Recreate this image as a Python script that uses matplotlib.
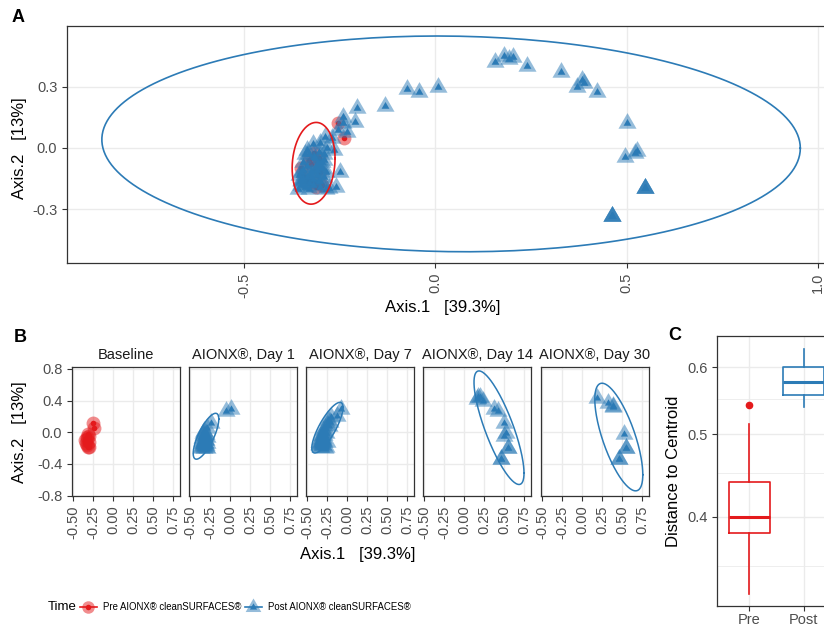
import numpy as np
import matplotlib
matplotlib.use("Agg")
import matplotlib.pyplot as plt
from matplotlib.lines import Line2D
from matplotlib.legend_handler import HandlerTuple
from matplotlib.ticker import FixedLocator, NullFormatter

plt.rcParams['font.family'] = ['Liberation Sans', 'DejaVu Sans']

# ---------------- data ----------------
pre_x = [-0.253, -0.238, -0.318, -0.305, -0.352, -0.313, -0.295, -0.320, -0.330, -0.300, -0.340, -0.325]
pre_y = [0.122, 0.049, -0.024, -0.050, -0.100, -0.190, -0.180, -0.165, -0.060, -0.120, -0.140, -0.080]

day1_x = [-0.044, 0.008, -0.240, -0.287, -0.335, -0.318, -0.345, -0.334, -0.352, -0.331, -0.300, -0.313,
          -0.290, -0.360, -0.325, -0.350, -0.340, -0.330, -0.320, -0.310, -0.305, -0.300, -0.295, -0.285,
          -0.345, -0.320, -0.310, -0.355, -0.290]
day1_y = [0.274, 0.300, 0.122, 0.054, -0.010, -0.044, -0.108, -0.140, -0.157, -0.171, -0.190, -0.093,
          -0.060, -0.200, -0.120, -0.180, -0.030, -0.200, -0.150, -0.130, -0.020, -0.160, -0.100, -0.200,
          -0.070, 0.020, -0.080, -0.130, -0.140]

day7_x = [-0.073, -0.131, -0.204, -0.209, -0.282, -0.300, -0.279, -0.330, -0.345, -0.310, -0.320, -0.295,
          -0.350, -0.340, -0.335, -0.325, -0.315, -0.305, -0.290, -0.270, -0.255, -0.240, -0.300, -0.350,
          -0.285, -0.265, -0.230, -0.260, -0.250]
day7_y = [0.289, 0.205, 0.196, 0.127, 0.000, 0.024, -0.196, -0.030, -0.150, -0.110, -0.180, -0.070,
          -0.120, -0.190, -0.090, -0.140, -0.050, -0.160, -0.030, 0.050, 0.090, 0.150, -0.100, -0.160,
          -0.120, -0.010, 0.080, -0.190, -0.120]

day14_x = [0.157, 0.178, 0.204, 0.240, 0.371, 0.423, 0.501, 0.496, 0.527, 0.548, 0.548, 0.462, 0.462]
day14_y = [0.420, 0.450, 0.445, 0.400, 0.300, 0.274, 0.122, -0.044, -0.015, -0.196, -0.196, -0.333, -0.333]

day30_x = [0.191, 0.329, 0.384, 0.387, 0.522, 0.548, 0.462, 0.548, 0.462]
day30_y = [0.435, 0.370, 0.333, 0.318, -0.024, -0.196, -0.333, -0.196, -0.333]

facet_titles = ["Baseline", "AIONX®, Day 1", "AIONX®, Day 7", "AIONX®, Day 14", "AIONX®, Day 30"]

# ellipse parameters: centre x, centre y, half-width x, half-height y, correlation
ellA_pre = (-0.318, -0.075, 0.056, 0.200, 0.12)
ellA_post = (0.041, 0.020, 0.912, 0.528, -0.04)
ellB = [None,
        (-0.300, -0.050, 0.160, 0.290, 0.75),
        (-0.245, 0.058, 0.195, 0.320, 0.80),
        (0.4375, 0.058, 0.3125, 0.7175, -0.80),
        (0.460, -0.060, 0.300, 0.680, -0.70)]

# distance-to-centroid boxplot stats
box_groups = ["Pre", "Post"]
box_q1 = [0.383, 0.556]
box_med = [0.400, 0.576]
box_q3 = [0.439, 0.601]
box_lo = [0.324, 0.538]
box_hi = [0.515, 0.630]
box_out = [[0.541], []]

legend_title = "Time"
legend_labels = ["Pre AIONX® cleanSURFACES®", "Post AIONX® cleanSURFACES®"]

RED = '#E41A1C'
BLUE = '#2C7BB6'
GRID = '#EBEBEB'
TICKC = '#4D4D4D'
SPINE = '#333333'
TRI = [(0, 0.577), (-0.5, -0.289), (0.5, -0.289), (0, 0.577)]

W, H = 824, 628
fig = plt.figure(figsize=(W / 100, H / 100), dpi=100)


def ax_px(l, t, r, b):
    return fig.add_axes([l / W, 1 - b / H, (r - l) / W, (b - t) / H])


def style(ax):
    ax.set_facecolor('white')
    ax.grid(True, color=GRID, lw=1.0, zorder=0)
    ax.set_axisbelow(True)
    for s in ax.spines.values():
        s.set_color(SPINE)
        s.set_linewidth(0.9)
    ax.tick_params(colors=SPINE, labelcolor=TICKC, labelsize=10.5, length=3.5, width=0.8)


def ell_xy(p):
    cx, cy, a, b, r = p
    t = np.linspace(0, 2 * np.pi, 200)
    return cx + a * np.cos(t), cy + b * (r * np.cos(t) + np.sqrt(1 - r * r) * np.sin(t))


def pts(ax, x, y, marker, color, big, small):
    ax.plot(x, y, ls='none', marker=marker, ms=big, color=color, alpha=0.5, mec='none', zorder=3)
    ax.plot(x, y, ls='none', marker=marker, ms=small, color=color, mec='none', zorder=3)


# ---------------- panel A ----------------
axA = ax_px(67, 26, 834, 263)
style(axA)
axA.set_xlim(-0.962, 1.041)
axA.set_ylim(-0.563, 0.597)
axA.set_xticks([-0.5, 0.0, 0.5, 1.0])
axA.set_xticklabels(['-0.5', '0.0', '0.5', '1.0'], rotation=90, va='top', ha='center')
axA.set_yticks([-0.3, 0.0, 0.3])
axA.set_yticklabels(['-0.3', '0.0', '0.3'])
axA.spines['right'].set_visible(False)
pts(axA, pre_x, pre_y, 'o', RED, 10, 4)
post_x = day1_x + day7_x + day14_x + day30_x
post_y = day1_y + day7_y + day14_y + day30_y
pts(axA, post_x, post_y, TRI, BLUE, 15, 6.5)
ex, ey = ell_xy(ellA_pre)
axA.plot(ex, ey, color=RED, lw=1.2, zorder=4)
ex, ey = ell_xy(ellA_post)
axA.plot(ex, ey, color=BLUE, lw=1.2, zorder=4)
fig.text(443 / W, 1 - 307 / H, 'Axis.1   [39.3%]', ha='center', va='center', fontsize=12)
fig.text(20 / W, 1 - 148 / H, 'Axis.2   [13%]', ha='center', va='center', fontsize=12, rotation=90)
fig.text(12 / W, 1 - 18 / H, 'A', fontweight='bold', fontsize=13, va='center')

# ---------------- panel B ----------------
lefts = [72, 189, 306, 423, 541]
groups = [(pre_x, pre_y, 'o', RED), (day1_x, day1_y, TRI, BLUE), (day7_x, day7_y, TRI, BLUE),
          (day14_x, day14_y, TRI, BLUE), (day30_x, day30_y, TRI, BLUE)]
for i, l in enumerate(lefts):
    ax = ax_px(l, 367, l + 108, 496)
    style(ax)
    ax.set_xlim(-0.5125, 0.8375)
    ax.set_ylim(-0.805, 0.825)
    ax.set_xticks([-0.5, -0.25, 0.0, 0.25, 0.5, 0.75])
    ax.set_xticklabels(['-0.50', '-0.25', '0.00', '0.25', '0.50', '0.75'], rotation=90, va='top', ha='center')
    ax.set_yticks([-0.8, -0.4, 0.0, 0.4, 0.8])
    if i == 0:
        ax.set_yticklabels(['-0.8', '-0.4', '0.0', '0.4', '0.8'])
    else:
        ax.set_yticklabels([])
        ax.tick_params(axis='y', length=0)
    gx, gy, mk, col = groups[i]
    if isinstance(mk, str):
        pts(ax, gx, gy, mk, col, 10, 4)
    else:
        pts(ax, gx, gy, mk, col, 15, 6)
    if ellB[i] is not None:
        ex, ey = ell_xy(ellB[i])
        ax.plot(ex, ey, color=col, lw=1.1, zorder=4)
    ax.set_title(facet_titles[i], fontsize=10.5, pad=6, color='#1A1A1A')
fig.text(358 / W, 1 - 554 / H, 'Axis.1   [39.3%]', ha='center', va='center', fontsize=12)
fig.text(20 / W, 1 - 432 / H, 'Axis.2   [13%]', ha='center', va='center', fontsize=12, rotation=90)
fig.text(14 / W, 1 - 337 / H, 'B', fontweight='bold', fontsize=13, va='center')

# ---------------- panel C ----------------
axC = ax_px(717, 336, 836, 606)
style(axC)
axC.set_yscale('log')
axC.set_ylim(0.314, 0.653)
axC.set_xlim(0.4, 2.6)
axC.yaxis.set_major_locator(FixedLocator([0.4, 0.5, 0.6]))
axC.yaxis.set_minor_locator(FixedLocator([0.35, 0.45, 0.55]))
axC.yaxis.set_minor_formatter(NullFormatter())
axC.set_yticklabels(['0.4', '0.5', '0.6'])
axC.tick_params(axis='y', which='minor', length=0)
axC.tick_params(axis='x', pad=1.5)
axC.grid(True, which='minor', axis='y', color=GRID, lw=0.6)
axC.spines['right'].set_visible(False)
stats = []
for i in range(2):
    stats.append(dict(label=box_groups[i], q1=box_q1[i], med=box_med[i], q3=box_q3[i],
                      whislo=box_lo[i], whishi=box_hi[i], fliers=box_out[i]))
cols = [RED, BLUE]
bp = axC.bxp(stats, positions=[1, 2], widths=0.75, showcaps=False, patch_artist=False)
for i, c in enumerate(cols):
    bp['boxes'][i].set(color=c, lw=1.2)
    bp['medians'][i].set(color=c, lw=2.2)
    for w in bp['whiskers'][2 * i:2 * i + 2]:
        w.set(color=c, lw=1.2)
    bp['fliers'][i].set(marker='o', markerfacecolor=c, markeredgecolor=c, markersize=4.5)
axC.set_xticks([1, 2])
axC.set_xticklabels(box_groups)
axC.set_ylabel('Distance to Centroid', fontsize=12, labelpad=4)
fig.text(668 / W, 1 - 336 / H, 'C', fontweight='bold', fontsize=13, va='center')

# ---------------- legend ----------------
lfs = 6.9
fig.text(48 / W, 1 - 607 / H, legend_title, va='center', fontsize=9.5)
h_pre = (Line2D([], [], color=RED, lw=1.2),
         Line2D([], [], ls='none', marker='o', ms=9, color=RED, alpha=0.5, mec='none'),
         Line2D([], [], ls='none', marker='o', ms=4, color=RED, mec='none'))
h_post = (Line2D([], [], color=BLUE, lw=1.2),
          Line2D([], [], ls='none', marker=TRI, ms=13, color=BLUE, alpha=0.5, mec='none'),
          Line2D([], [], ls='none', marker=TRI, ms=6, color=BLUE, mec='none'))
hl_px = 17.0
for h, lab, cx, tx in [(h_pre, legend_labels[0], 88, 103), (h_post, legend_labels[1], 253, 268)]:
    fpx = lfs * 100 / 72
    anchor = cx - hl_px / 2
    fig.legend([h], [lab], handler_map={tuple: HandlerTuple(ndivide=1)}, loc='center left',
               bbox_to_anchor=(anchor / W, 1 - 607 / H), frameon=False,
               prop={'size': lfs},
               handlelength=hl_px / fpx, handletextpad=(tx - anchor - hl_px) / fpx,
               borderpad=0, borderaxespad=0)

fig.savefig('out.png', dpi=100)
